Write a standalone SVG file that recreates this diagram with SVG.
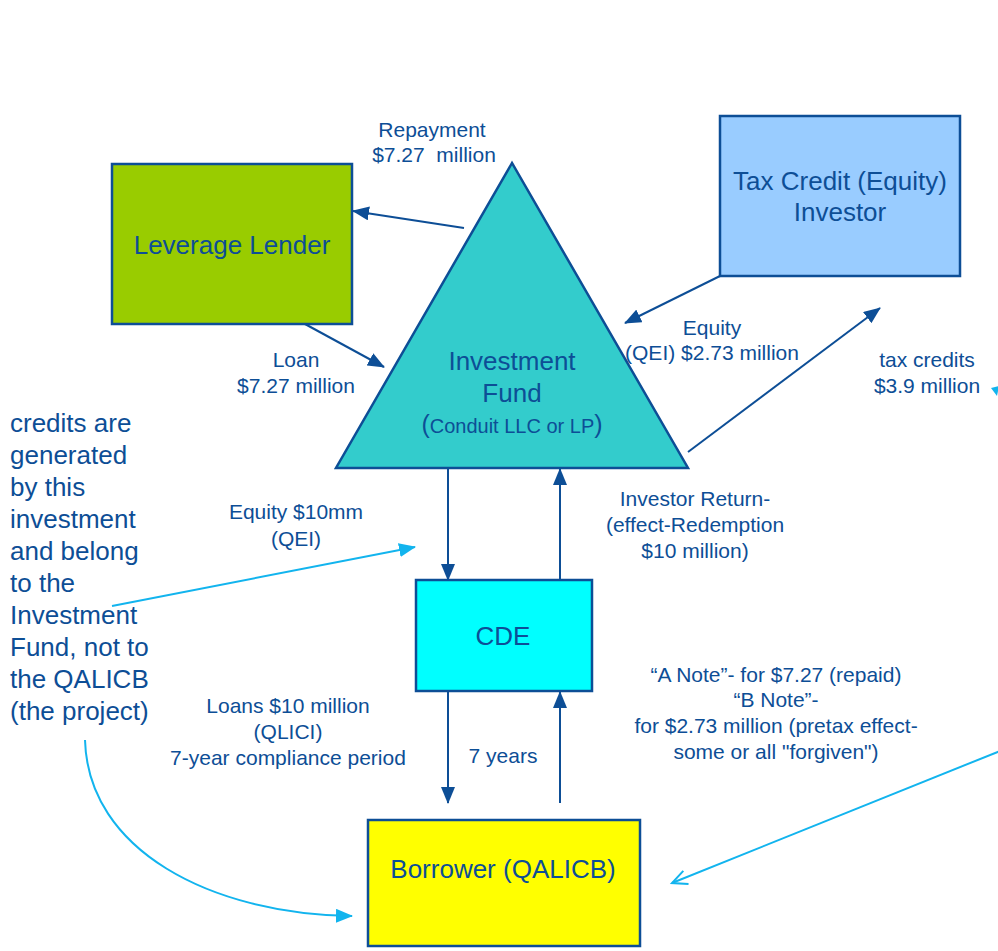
<svg xmlns="http://www.w3.org/2000/svg" width="998" height="951" viewBox="0 0 998 951">
<style>
  text { font-family: "Liberation Sans", Arial, sans-serif; fill: #0D4E96; }
  .lg { font-size: 26px; text-anchor: middle; }
  .sm { font-size: 21px; text-anchor: middle; }
  .note { font-size: 26px; }
  .box { stroke: #0D4E96; stroke-width: 2.5; }
  .dk { stroke: #0D4E96; stroke-width: 2; fill: none; }
  .lb { stroke: #12B4EE; stroke-width: 2; fill: none; }
</style>
<defs>
  <marker id="ad" markerUnits="userSpaceOnUse" markerWidth="18" markerHeight="14" refX="16" refY="7" orient="auto">
    <path d="M0,0 L17,7 L0,14 Z" fill="#0D4E96"/>
  </marker>
  <marker id="al" markerUnits="userSpaceOnUse" markerWidth="18" markerHeight="14" refX="16" refY="7" orient="auto">
    <path d="M0,0 L17,7 L0,14 Z" fill="#12B4EE"/>
  </marker>
  <marker id="ao" markerUnits="userSpaceOnUse" markerWidth="20" markerHeight="20" refX="17" refY="10" orient="auto">
    <path d="M2,3 L17,10 L2,17" fill="none" stroke="#12B4EE" stroke-width="2"/>
  </marker>
</defs>
<rect width="998" height="951" fill="#ffffff"/>

<g id="leverage-lender">
  <rect class="box" x="112" y="164" width="240" height="160" fill="#99CC00"/>
  <text class="lg" x="232" y="254">Leverage Lender</text>
</g>

<g id="tax-credit-investor">
  <rect class="box" x="720" y="116" width="240" height="160" fill="#99CCFF"/>
  <text class="lg" x="840" y="190">Tax Credit (Equity)</text>
  <text class="lg" x="840" y="221">Investor</text>
</g>

<g id="investment-fund">
  <polygon class="box" points="512,163 336,468 688,468" fill="#33CCCC"/>
  <text class="lg" x="512" y="370">Investment</text>
  <text class="lg" x="512" y="402">Fund</text>
  <text class="lg" x="512" y="433"><tspan font-size="25">(</tspan><tspan font-size="20">Conduit LLC or LP</tspan><tspan font-size="25">)</tspan></text>
</g>

<g id="cde">
  <rect class="box" x="416" y="580" width="176" height="111" fill="#00FFFF"/>
  <text class="lg" x="503" y="645">CDE</text>
</g>

<g id="borrower">
  <rect class="box" x="368" y="820" width="272" height="126" fill="#FFFF00"/>
  <text class="lg" x="503" y="878">Borrower (QALICB)</text>
</g>

<g id="connectors">
  <line class="dk" x1="464" y1="228" x2="353" y2="211" marker-end="url(#ad)"/>
  <line class="dk" x1="305" y1="324" x2="384" y2="367" marker-end="url(#ad)"/>
  <line class="dk" x1="720" y1="276" x2="625" y2="323" marker-end="url(#ad)"/>
  <line class="dk" x1="688" y1="452" x2="880" y2="308" marker-end="url(#ad)"/>
  <line class="dk" x1="448" y1="468" x2="448" y2="580" marker-end="url(#ad)"/>
  <line class="dk" x1="560" y1="580" x2="560" y2="469" marker-end="url(#ad)"/>
  <line class="dk" x1="448" y1="691" x2="448" y2="803" marker-end="url(#ad)"/>
  <line class="dk" x1="560" y1="803" x2="560" y2="692" marker-end="url(#ad)"/>
  <line class="lb" x1="112" y1="606" x2="415" y2="547" marker-end="url(#al)"/>
  <path class="lb" d="M85,740 C88,850 210,914 352,916" marker-end="url(#al)"/>
  <line class="lb" x1="1000" y1="751" x2="672" y2="883" marker-end="url(#ao)"/>
  <polygon points="991,388 999,386 997,396" fill="#12B4EE"/>
</g>

<g id="labels">
  <text class="sm" x="432" y="137">Repayment</text>
  <text class="sm" x="434" y="162" xml:space="preserve">$7.27  million</text>
  <text class="sm" x="296" y="367">Loan</text>
  <text class="sm" x="296" y="393">$7.27 million</text>
  <text class="sm" x="712" y="335">Equity</text>
  <text class="sm" x="712" y="360">(QEI) $2.73 million</text>
  <text class="sm" x="927" y="367">tax credits</text>
  <text class="sm" x="927" y="393">$3.9 million</text>
  <text class="sm" x="296" y="519">Equity $10mm</text>
  <text class="sm" x="296" y="546">(QEI)</text>
  <text class="sm" x="695" y="506">Investor Return-</text>
  <text class="sm" x="695" y="532">(effect-Redemption</text>
  <text class="sm" x="695" y="558">$10 million)</text>
  <text class="sm" x="288" y="713">Loans $10 million</text>
  <text class="sm" x="288" y="739">(QLICI)</text>
  <text class="sm" x="288" y="765">7-year compliance period</text>
  <text class="sm" x="503" y="763">7 years</text>
  <text class="sm" x="776" y="682">“A Note”- for $7.27 (repaid)</text>
  <text class="sm" x="776" y="707">“B Note”-</text>
  <text class="sm" x="776" y="733">for $2.73 million (pretax effect-</text>
  <text class="sm" x="776" y="759">some or all "forgiven")</text>
  <text class="note" x="10" y="432">credits are</text>
  <text class="note" x="10" y="464">generated</text>
  <text class="note" x="10" y="496">by this</text>
  <text class="note" x="10" y="528">investment</text>
  <text class="note" x="10" y="560">and belong</text>
  <text class="note" x="10" y="592">to the</text>
  <text class="note" x="10" y="624">Investment</text>
  <text class="note" x="10" y="656">Fund, not to</text>
  <text class="note" x="10" y="688">the QALICB</text>
  <text class="note" x="10" y="720">(the project)</text>
</g>
</svg>
